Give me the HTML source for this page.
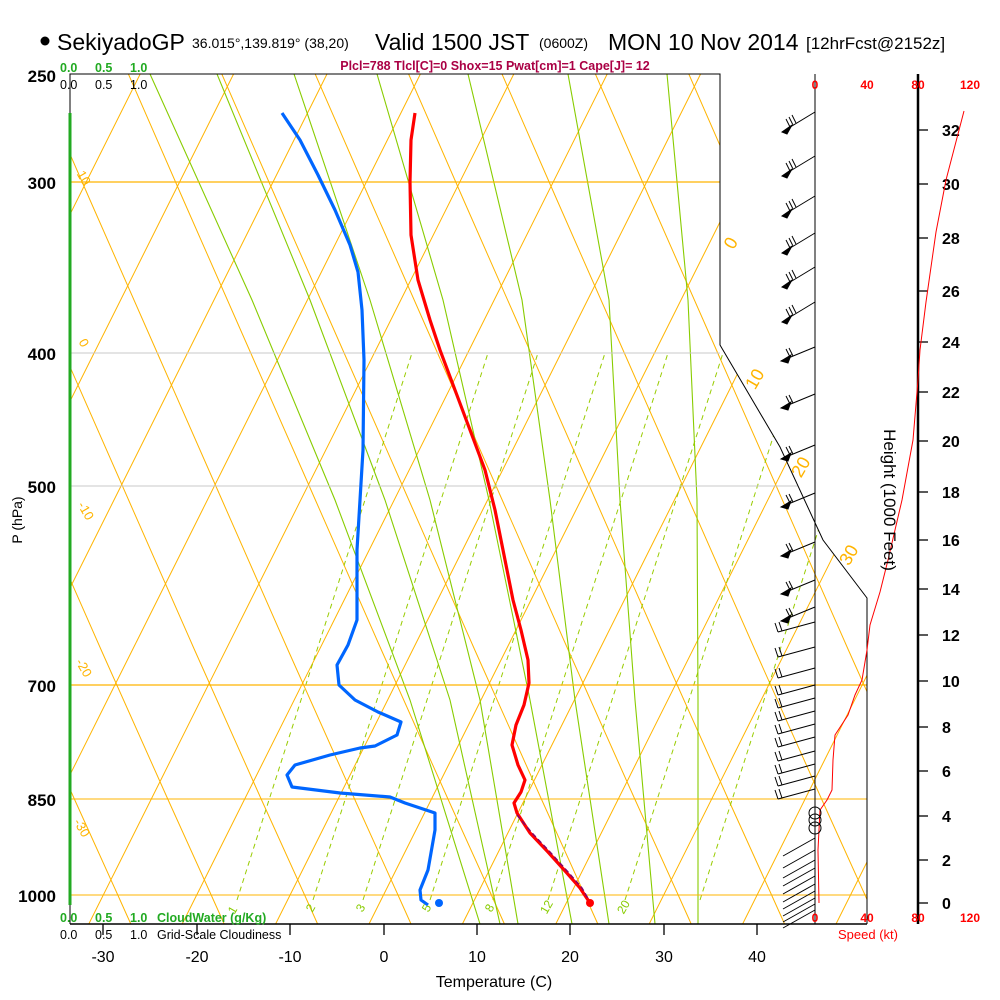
<!DOCTYPE html>
<html><head><meta charset="utf-8">
<style>
html,body{margin:0;padding:0;background:#fff;}
svg{display:block;font-family:"Liberation Sans",Arial,sans-serif;}
</style></head>
<body>
<svg width="1000" height="1000" viewBox="0 0 1000 1000" xmlns="http://www.w3.org/2000/svg" xmlns:xlink="http://www.w3.org/1999/xlink">
<defs>
<clipPath id="cp"><polygon points="70,74 720,74 720,345 780,447 823,540 867,598 867,924 70,924"/></clipPath>
<line id="iso" x1="-14.5" y1="924" x2="410.5" y2="74" stroke="#ffb400" stroke-width="1"/>
<polyline id="da" points="13,924 0,895 -43,800 -110,650 -176,500 -242,350 -308,200 -363,74" fill="none" stroke="#ffb400" stroke-width="1"/>
<line id="mr" x1="0" y1="900" x2="175" y2="353" stroke="#99cc00" stroke-width="1" stroke-dasharray="5,4"/>
<g id="ub" stroke="#000" stroke-width="1">
<line x1="0" y1="0" x2="-33" y2="20"/>
<polygon points="-33,20 -23,13 -28,22" fill="#000"/>
<line x1="-25" y1="15" x2="-29" y2="7"/><line x1="-22" y1="13" x2="-26" y2="5"/><line x1="-19" y1="11" x2="-23" y2="3"/>
</g>
<g id="mb" stroke="#000" stroke-width="1">
<line x1="0" y1="0" x2="-34" y2="14"/>
<polygon points="-34,14 -24,8 -27,16" fill="#000"/>
<line x1="-25" y1="10" x2="-29" y2="2"/><line x1="-22" y1="9" x2="-26" y2="1"/>
</g>
<g id="lb" stroke="#000" stroke-width="1">
<line x1="0" y1="0" x2="-37" y2="10"/>
<line x1="-37" y1="10" x2="-40" y2="1"/><line x1="-33" y1="9" x2="-36" y2="0"/>
</g>
<line id="sb" x1="0" y1="0" x2="-32" y2="18" stroke="#000" stroke-width="1"/>
</defs>
<rect width="1000" height="1000" fill="#fff"/>
<g clip-path="url(#cp)">
<use xlink:href="#iso" x="-270.3"/><use xlink:href="#iso" x="-176.9"/><use xlink:href="#iso" x="-83.5"/><use xlink:href="#iso" x="9.9"/>
<use xlink:href="#iso" x="103.3"/><use xlink:href="#iso" x="196.7"/><use xlink:href="#iso" x="290.1"/><use xlink:href="#iso" x="383.5"/>
<use xlink:href="#iso" x="476.9"/><use xlink:href="#iso" x="570.3"/><use xlink:href="#iso" x="663.7"/><use xlink:href="#iso" x="757.1"/><use xlink:href="#iso" x="850.5"/>
<use xlink:href="#da" x="117.8"/><use xlink:href="#da" x="211.2"/><use xlink:href="#da" x="304.6"/><use xlink:href="#da" x="398"/>
<use xlink:href="#da" x="491.4"/><use xlink:href="#da" x="584.8"/><use xlink:href="#da" x="678.2"/><use xlink:href="#da" x="771.6"/>
<use xlink:href="#da" x="865"/><use xlink:href="#da" x="958.4"/><use xlink:href="#da" x="1051.8"/><use xlink:href="#da" x="1145.2"/><use xlink:href="#da" x="1238.6"/>
<g fill="none" stroke="#88cc00" stroke-width="1.1">
<polyline points="150,74 252,300 335,500 410,700 480,924"/>
<polyline points="217,74 310,300 385,500 450,700 500,924"/>
<polyline points="294,74 370,300 430,500 480,700 518,924"/>
<polyline points="377,74 443,300 489,500 530,700 572,924"/>
<polyline points="468,74 522,300 550,500 575,700 609,924"/>
<polyline points="568,74 609,300 620,500 635,700 655,924"/>
<polyline points="667,74 688,300 697,500 698,700 698,924"/>
</g>
<use xlink:href="#mr" x="237"/><use xlink:href="#mr" x="313"/><use xlink:href="#mr" x="363"/><use xlink:href="#mr" x="430"/>
<use xlink:href="#mr" x="493"/><use xlink:href="#mr" x="548"/><use xlink:href="#mr" x="625"/><use xlink:href="#mr" x="700"/>
<line x1="70" y1="182" x2="720" y2="182" stroke="#ffb400" stroke-width="1.3"/>
<line x1="70" y1="353" x2="720" y2="353" stroke="#c8c8c8" stroke-width="1"/>
<line x1="70" y1="486" x2="867" y2="486" stroke="#c8c8c8" stroke-width="1"/>
<line x1="70" y1="685" x2="867" y2="685" stroke="#ffb400" stroke-width="1.3"/>
<line x1="70" y1="799" x2="867" y2="799" stroke="#ffb400" stroke-width="1"/>
<line x1="70" y1="895" x2="867" y2="895" stroke="#ffb400" stroke-width="1"/>
</g>
<!-- frame -->
<polyline points="70,924 70,74 720,74 720,345 780,447 823,540 867,598 867,924" fill="none" stroke="#000" stroke-width="1"/>
<line x1="70" y1="924" x2="867" y2="924" stroke="#000" stroke-width="1.5"/>
<line x1="70" y1="113" x2="70" y2="905" stroke="#22aa22" stroke-width="3"/>
<line x1="815" y1="74" x2="815" y2="924" stroke="#000" stroke-width="1"/>
<line x1="918" y1="74" x2="918" y2="924" stroke="#000" stroke-width="2.5"/>
<g stroke="#000" stroke-width="1.3">
<line x1="103" y1="924" x2="103" y2="935"/><line x1="197" y1="924" x2="197" y2="935"/><line x1="290" y1="924" x2="290" y2="935"/><line x1="384" y1="924" x2="384" y2="935"/><line x1="477" y1="924" x2="477" y2="935"/><line x1="570" y1="924" x2="570" y2="935"/><line x1="664" y1="924" x2="664" y2="935"/><line x1="757" y1="924" x2="757" y2="935"/>
</g>
<g stroke="#000" stroke-width="1.3">
<line x1="918" y1="903" x2="928" y2="903"/><line x1="918" y1="860" x2="928" y2="860"/><line x1="918" y1="816" x2="928" y2="816"/><line x1="918" y1="771" x2="928" y2="771"/><line x1="918" y1="727" x2="928" y2="727"/><line x1="918" y1="681" x2="928" y2="681"/><line x1="918" y1="635" x2="928" y2="635"/><line x1="918" y1="589" x2="928" y2="589"/><line x1="918" y1="540" x2="928" y2="540"/><line x1="918" y1="492" x2="928" y2="492"/><line x1="918" y1="441" x2="928" y2="441"/><line x1="918" y1="392" x2="928" y2="392"/><line x1="918" y1="342" x2="928" y2="342"/><line x1="918" y1="291" x2="928" y2="291"/><line x1="918" y1="238" x2="928" y2="238"/><line x1="918" y1="184" x2="928" y2="184"/><line x1="918" y1="130" x2="928" y2="130"/>
</g>
<g font-size="16" font-weight="bold">
<text x="942" y="909">0</text><text x="942" y="866">2</text><text x="942" y="822">4</text><text x="942" y="777">6</text><text x="942" y="733">8</text><text x="942" y="687">10</text><text x="942" y="641">12</text><text x="942" y="595">14</text><text x="942" y="546">16</text><text x="942" y="498">18</text><text x="942" y="447">20</text><text x="942" y="398">22</text><text x="942" y="348">24</text><text x="942" y="297">26</text><text x="942" y="244">28</text><text x="942" y="190">30</text><text x="942" y="136">32</text>
</g>
<!-- temperature & dewpoint -->
<polyline fill="none" stroke="#ff0000" stroke-width="3.2" stroke-linejoin="round" points="415,113 411,140 410,182 411,235 418,280 430,320 440,350 455,390 470,430 485,470 495,510 505,560 513,600 521,630 528,660 529,683 524,705 516,725 512,745 518,765 525,780 521,792 514,803 517,813 530,833 548,852 566,872 580,888 590,903"/>
<polyline fill="none" stroke="#880066" stroke-width="1.5" stroke-dasharray="5,3" points="517,815 532,833 550,852 568,872 582,888 590,902"/>
<circle cx="590" cy="903" r="4" fill="#ff0000"/>
<polyline fill="none" stroke="#0066ff" stroke-width="3.2" stroke-linejoin="round" points="282,113 300,140 318,175 335,210 350,245 358,272 362,310 364,360 363,450 360,500 357,550 357,620 348,645 337,665 339,685 355,700 378,712 401,722 397,735 375,746 360,748 330,755 295,765 287,775 292,787 340,793 390,797 405,803 435,813 435,830 428,870 420,890 421,900 428,905"/>
<circle cx="439" cy="903" r="4" fill="#0066ff"/>
<!-- wind barbs -->
<use xlink:href="#ub" x="815" y="112"/><use xlink:href="#ub" x="815" y="156"/><use xlink:href="#ub" x="815" y="196"/><use xlink:href="#ub" x="815" y="233"/><use xlink:href="#ub" x="815" y="267"/><use xlink:href="#ub" x="815" y="302"/>
<use xlink:href="#mb" x="815" y="347"/><use xlink:href="#mb" x="815" y="394"/><use xlink:href="#mb" x="815" y="445"/><use xlink:href="#mb" x="815" y="493"/><use xlink:href="#mb" x="815" y="542"/><use xlink:href="#mb" x="815" y="580"/><use xlink:href="#mb" x="815" y="607"/>
<use xlink:href="#lb" x="815" y="622"/><use xlink:href="#lb" x="815" y="647"/><use xlink:href="#lb" x="815" y="668"/><use xlink:href="#lb" x="815" y="685"/><use xlink:href="#lb" x="815" y="698"/><use xlink:href="#lb" x="815" y="711"/><use xlink:href="#lb" x="815" y="724"/><use xlink:href="#lb" x="815" y="737"/><use xlink:href="#lb" x="815" y="751"/><use xlink:href="#lb" x="815" y="764"/><use xlink:href="#lb" x="815" y="776"/><use xlink:href="#lb" x="815" y="789"/>
<use xlink:href="#sb" x="815" y="838"/><use xlink:href="#sb" x="815" y="850"/><use xlink:href="#sb" x="815" y="860"/><use xlink:href="#sb" x="815" y="868"/><use xlink:href="#sb" x="815" y="876"/><use xlink:href="#sb" x="815" y="884"/><use xlink:href="#sb" x="815" y="891"/><use xlink:href="#sb" x="815" y="898"/><use xlink:href="#sb" x="815" y="904"/><use xlink:href="#sb" x="815" y="910"/>
<!-- height speed -->
<polyline fill="none" stroke="#ff0000" stroke-width="1" points="964,111 946,180 936,232 926,302 920,350 918,380 913,440 902,500 888,560 880,592 870,625 867,650 862,680 855,695 848,715 835,735 833,760 832,790 827,800 820,810 818,850 819,903"/>
<g fill="none" stroke="#000" stroke-width="1">
<circle cx="815" cy="813" r="6"/><circle cx="815" cy="820" r="6"/><circle cx="815" cy="828" r="6"/>
</g>
<!-- titles -->
<circle cx="45" cy="41" r="4.5" fill="#000"/>
<text x="57" y="50" font-size="23">SekiyadoGP</text>
<text x="192" y="48" font-size="14">36.015°,139.819° (38,20)</text>
<text x="375" y="50" font-size="23">Valid 1500 JST</text>
<text x="539" y="48" font-size="14">(0600Z)</text>
<text x="608" y="50" font-size="23">MON 10 Nov 2014</text>
<text x="806" y="49" font-size="17">[12hrFcst@2152z]</text>
<text x="495" y="70" font-size="12.5" font-weight="bold" fill="#aa0044" text-anchor="middle">Plcl=788 Tlcl[C]=0 Shox=15 Pwat[cm]=1 Cape[J]= 12</text>
<g font-size="12.5" font-weight="bold" fill="#22aa22"><text x="60" y="72">0.0</text><text x="95" y="72">0.5</text><text x="130" y="72">1.0</text></g>
<g font-size="12.5" fill="#000"><text x="60" y="89">0.0</text><text x="95" y="89">0.5</text><text x="130" y="89">1.0</text></g>
<g font-size="12" font-weight="bold" fill="#ff0000" text-anchor="middle"><text x="815" y="89">0</text><text x="867" y="89">40</text><text x="918" y="89">80</text><text x="970" y="89">120</text></g>
<g font-size="12" font-weight="bold" fill="#ff0000" text-anchor="middle"><text x="815" y="922">0</text><text x="867" y="922">40</text><text x="918" y="922">80</text><text x="970" y="922">120</text></g>
<text x="868" y="939" font-size="13" fill="#ff0000" text-anchor="middle">Speed (kt)</text>
<g font-size="12.5" font-weight="bold" fill="#22aa22"><text x="60" y="922">0.0</text><text x="95" y="922">0.5</text><text x="130" y="922">1.0</text><text x="157" y="922">CloudWater (g/Kg)</text></g>
<g font-size="12.5" fill="#000"><text x="60" y="939">0.0</text><text x="95" y="939">0.5</text><text x="130" y="939">1.0</text><text x="157" y="939">Grid-Scale Cloudiness</text></g>
<g font-size="17" font-weight="bold" text-anchor="end"><text x="56" y="82">250</text><text x="56" y="189">300</text><text x="56" y="360">400</text><text x="56" y="493">500</text><text x="56" y="692">700</text><text x="56" y="806">850</text><text x="56" y="902">1000</text></g>
<g font-size="16" text-anchor="middle"><text x="103" y="962">-30</text><text x="197" y="962">-20</text><text x="290" y="962">-10</text><text x="384" y="962">0</text><text x="477" y="962">10</text><text x="570" y="962">20</text><text x="664" y="962">30</text><text x="757" y="962">40</text></g>
<text x="494" y="987" font-size="16" text-anchor="middle">Temperature (C)</text>
<text transform="translate(22,520) rotate(-90)" font-size="14" text-anchor="middle">P (hPa)</text>
<text transform="translate(884,500) rotate(90)" font-size="17" text-anchor="middle">Height (1000 Feet)</text>
<g font-size="18" fill="#ffb400" text-anchor="middle">
<text transform="translate(736,246) rotate(-60)">0</text>
<text transform="translate(760,382) rotate(-60)">10</text>
<text transform="translate(806,470) rotate(-60)">20</text>
<text transform="translate(854,558) rotate(-60)">30</text>
</g>
<g font-size="13" fill="#ffb400" text-anchor="middle">
<text transform="translate(80,180) rotate(60)">10</text>
<text transform="translate(80,345) rotate(60)">0</text>
<text transform="translate(82,513) rotate(60)">-10</text>
<text transform="translate(80,670) rotate(60)">-20</text>
<text transform="translate(78,830) rotate(60)">-30</text>
</g>
<g font-size="12" fill="#88cc00" text-anchor="middle">
<text transform="translate(236,912) rotate(-60)">1</text>
<text transform="translate(314,910) rotate(-60)">2</text>
<text transform="translate(364,910) rotate(-60)">3</text>
<text transform="translate(430,910) rotate(-60)">5</text>
<text transform="translate(493,910) rotate(-60)">8</text>
<text transform="translate(550,909) rotate(-60)">12</text>
<text transform="translate(627,909) rotate(-60)">20</text>
</g>
</svg>
</body></html>
